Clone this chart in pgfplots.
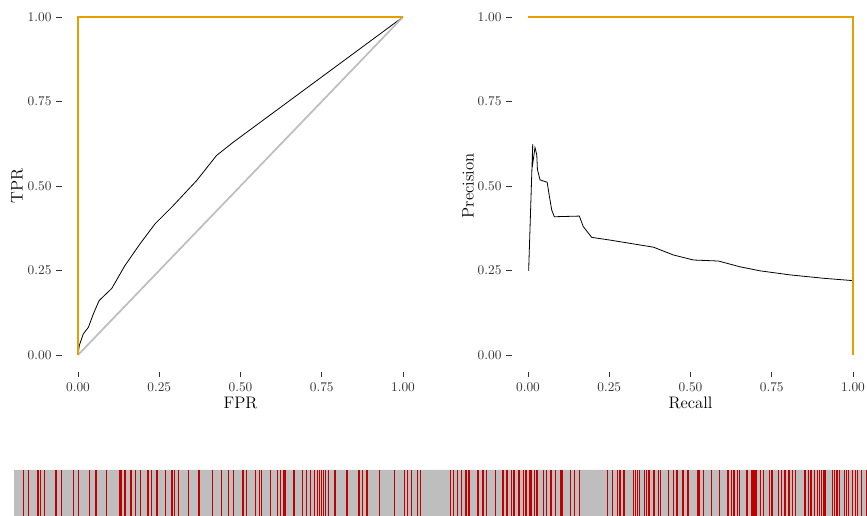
\documentclass[border=0pt]{standalone}
\usepackage{pgfplots}
\pgfplotsset{compat=1.18}
\definecolor{orng}{RGB}{230,159,0}
\definecolor{rugred}{RGB}{192,0,0}
\definecolor{ruggray}{RGB}{190,190,190}
\definecolor{diag}{RGB}{190,190,190}
\pgfplotsset{
  panel/.style={
    scale only axis, width=268.125pt, height=278.85pt,
    xmin=-0.05, xmax=1.05, ymin=-0.05, ymax=1.05,
    axis line style={draw=none},
    tick pos=left, tick align=outside, major tick length=4.2pt,
    tick style={black!80, line width=0.5pt},
    xtick={0,0.25,0.5,0.75,1}, ytick={0,0.25,0.5,0.75,1},
    xticklabels={0.00,0.25,0.50,0.75,1.00},
    yticklabels={0.00,0.25,0.50,0.75,1.00},
    ticklabel style={font=\fontsize{10}{12}\selectfont, text=black!80},
    label style={font=\fontsize{12.5}{14}\selectfont},
    xlabel style={at={(axis description cs:0.5,-0.0836)}, anchor=center},
    ylabel style={at={(axis description cs:-0.125,0.5)}, anchor=center},
  }
}
\begin{document}
\begin{tikzpicture}
\path[use as bounding box] (0,0) rectangle (650.25pt,387pt);
% ROC
\begin{axis}[panel, at={(46.3125pt,108.075pt)}, anchor=south west,
  xlabel={FPR}, ylabel={TPR}]
\addplot[black, line width=0.6pt] coordinates {
 (0,0) (0.004,0.028) (0.016,0.062) (0.032,0.082) (0.047,0.121) (0.065,0.161)
 (0.104,0.197) (0.144,0.264) (0.191,0.329) (0.237,0.388) (0.293,0.442)
 (0.365,0.516) (0.426,0.590) (0.477,0.629) (1,1)};
\addplot[diag, line width=1.3pt] coordinates {(0,0) (1,1)};
\addplot[orng, line width=1.5pt] coordinates {(0,0) (0,1) (1,1)};
\end{axis}
% PR
\begin{axis}[panel, at={(383.8125pt,108.075pt)}, anchor=south west,
  xlabel={Recall}, ylabel={Precision},
  ylabel style={at={(axis description cs:-0.1224,0.5)}}]
\addplot[black, line width=0.6pt] coordinates {
 (0.002,0.249) (0.0145,0.624) (0.013,0.555) (0.0215,0.614) (0.027,0.592)
 (0.029,0.549) (0.037,0.518) (0.059,0.511) (0.066,0.468) (0.073,0.429)
 (0.081,0.409) (0.158,0.411) (0.170,0.380) (0.196,0.348) (0.252,0.340)
 (0.386,0.319) (0.447,0.296) (0.509,0.281) (0.586,0.278) (0.652,0.261)
 (0.714,0.249) (0.806,0.237) (0.909,0.227) (1.0,0.220)};
\addplot[orng, line width=1.5pt] coordinates {(0,1) (1,1) (1,0)};
\end{axis}
% rug strip
\begin{axis}[scale only axis, width=639.75pt, height=34.5pt,
  at={(10.5pt,0pt)}, anchor=south west,
  xmin=14, xmax=867, ymin=0, ymax=1,
  axis line style={draw=none}, ticks=none]
\addplot[fill=ruggray, draw=none] coordinates {(14,0) (867,0) (867,1) (14,1)} \closedcycle;
\addplot[ycomb, rugred, line width=0.75pt, mark=none] coordinates {
 (23.3,1) (28.3,1) (40.5,1) (44.3,1) (61.3,1) (73.3,1) (78.3,1) (89.3,1)
 (106.3,1) (135.3,1) (140.3,1) (151.7,1) (165.3,1) (174.3,1) (178.3,1)
 (188.3,1) (212.3,1) (221.3,1) (228.3,1) (233.3,1) (246.3,1) (255.3,1)
 (259.3,1) (261.3,1) (270.3,1) (277.3,1) (280.3,1) (302.3,1) (306.3,1)
 (310.3,1) (314.3,1) (317.3,1) (319.3,1) (321.3,1) (323.3,1) (325.3,1)
 (328.3,1) (362.7,1) (379.3,1) (394.3,1) (404.3,1) (407.3,1) (411.3,1)
 (417.3,1) (420.3,1)
 (450.3,1) (453.3,1) (457.7,1) (461.7,1) (486.3,1) (495.3,1) (511.3,1)
 (523.3,1) (534.7,1) (543.7,1) (546.7,1) (555.3,1) (570.3,1) (574.3,1)
 (579.3,1) (607.3,1) (612.3,1) (617.7,1) (633.3,1) (635.3,1) (637.3,1)
 (639.3,1) (644.3,1) (646.3,1) (658.7,1) (660.7,1) (668.3,1) (673,1)
 (703.3,1) (711.3,1) (719.3,1) (731.7,1) (737,1) (739,1) (760.7,1) (763,1)
 (769,1) (778.3,1) (781,1) (792.3,1) (795.3,1) (808,1) (814,1) (817.3,1)
 (819.3,1) (821.3,1) (825.7,1) (832.3,1) (834.3,1) (839.3,1) (844.7,1)
 (846.7,1) (848.7,1) (852.7,1) (855.3,1) (857.7,1) (861.7,1) (866.3,1)};
\addplot[ycomb, rugred, line width=1.5pt, mark=none] coordinates {
 (38.3,1) (55.7,1) (96,1) (125,1) (131,1) (148,1) (157,1) (172,1) (199,1)
 (243,1) (294,1) (335,1) (347,1) (359,1) (367,1)
 (465.7,1) (469,1) (478,1) (482.7,1) (503,1) (507,1) (514,1) (519.3,1)
 (526.3,1) (536.7,1) (550.7,1) (619.7,1) (623.7,1) (648.7,1) (653.7,1)
 (677.3,1) (682.7,1) (687.5,1) (727.7,1) (734,1) (747.3,1) (772.3,1)
 (785.3,1) (789.3,1) (805,1) (811,1) (824,1) (836.7,1)};
\addplot[ycomb, rugred, line width=2.6pt, mark=none] coordinates {
 (120.5,1) (284.5,1) (530.7,1) (561.3,1) (698.7,1)};
\addplot[ycomb, rugred, line width=4.2pt, mark=none] coordinates {
 (753.7,1)};
\end{axis}
\end{tikzpicture}
\end{document}
